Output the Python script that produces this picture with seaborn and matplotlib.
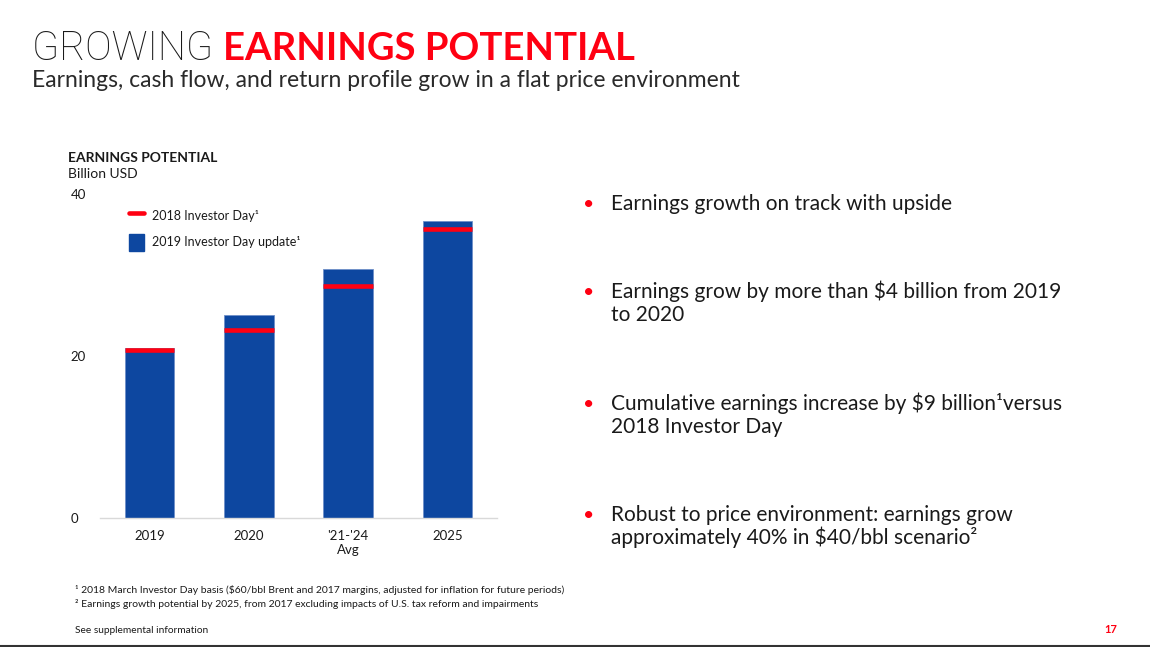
import matplotlib
matplotlib.use("Agg")
import matplotlib.pyplot as plt
import seaborn as sns
import pandas as pd
from matplotlib.lines import Line2D
from matplotlib.patches import Patch

categories = ["2019", "2020", "'21-'24\nAvg", "2025"]
update_2019 = [21.0, 25.1, 30.7, 36.7]
investor_day_2018 = [20.7, 23.2, 28.7, 35.7]
y_ticks = [0, 20, 40]

BLUE = "#0D47A0"
RED = "#FF0012"
TXT = "#1a1a1a"

sns.set_theme(style="white")
plt.rcParams["font.family"] = ["Lato", "DejaVu Sans"]

fig = plt.figure(figsize=(11.5, 6.47), dpi=100)
ax = fig.add_axes([100 / 1150, 1 - 518 / 647, 397 / 1150, 324 / 647])

df = pd.DataFrame({"cat": categories, "val": update_2019, "prev": investor_day_2018})
sns.barplot(data=df, x="cat", y="val", color=BLUE, width=0.5, saturation=1,
            edgecolor="#6f8fc8", linewidth=0.6, ax=ax)
xs = list(range(len(categories)))
ax.hlines(df["prev"], [x - 0.25 for x in xs], [x + 0.25 for x in xs],
          colors=RED, linewidth=3.3, zorder=5)

ax.set_ylim(0, 40)
ax.set_xlim(-0.5, len(categories) - 0.5)
ax.set_yticks(y_ticks)
ax.set_yticklabels([str(t) for t in y_ticks])
ax.set_xlabel("")
ax.set_ylabel("")
for s in ["top", "right", "left"]:
    ax.spines[s].set_visible(False)
ax.spines["bottom"].set_color("#d9d9d9")
ax.spines["bottom"].set_linewidth(1.0)
ax.tick_params(axis="both", length=0, labelsize=9.5, colors=TXT)
ax.tick_params(axis="x", pad=9)
for lab in ax.get_yticklabels():
    lab.set_horizontalalignment("left")
ax.yaxis.set_tick_params(pad=21)

handles = [Line2D([0], [0], color=RED, lw=3.3),
           Patch(facecolor=BLUE, edgecolor=BLUE)]
labels = ["2018 Investor Day¹", "2019 Investor Day update¹"]
ax.legend(handles, labels, loc="upper left", bbox_to_anchor=(0.045, 0.995),
          frameon=False, fontsize=9, handlelength=1.2, handleheight=1.75,
          handletextpad=0.65, labelspacing=0.75, labelcolor=TXT)

# Titles
t1 = fig.text(32 / 1150, 1 - 60 / 647, "GROWING ", fontsize=28.5,
              family=["Roboto", "DejaVu Sans"], fontweight="light",
              color=TXT, va="baseline", ha="left")
fig.canvas.draw()
bb = t1.get_window_extent()
fig.text(bb.x1 / 1150, 1 - 60 / 647, "EARNINGS POTENTIAL", fontsize=27.5,
         fontweight="bold", color=RED, va="baseline", ha="left")
fig.text(32 / 1150, 1 - 87 / 647,
         "Earnings, cash flow, and return profile grow in a flat price environment",
         fontsize=16.5, color="#2a2a2a", va="baseline", ha="left")

fig.text(68 / 1150, 1 - 162 / 647, "EARNINGS POTENTIAL", fontsize=10,
         fontweight="bold", color=TXT, va="baseline", ha="left")
fig.text(68 / 1150, 1 - 178 / 647, "Billion USD", fontsize=10,
         color=TXT, va="baseline", ha="left")

bullets = [
    (210, ["Earnings growth on track with upside"]),
    (298, ["Earnings grow by more than $4 billion from 2019", "to 2020"]),
    (410, ["Cumulative earnings increase by $9 billion¹versus", "2018 Investor Day"]),
    (521, ["Robust to price environment: earnings grow",
           "approximately 40% in $40/bbl scenario²"]),
]
for y, lines in bullets:
    fig.text(583 / 1150, 1 - y / 647, "•", fontsize=14, color=RED,
             va="baseline", ha="left")
    for i, line in enumerate(lines):
        fig.text(611 / 1150, 1 - (y + 23 * i) / 647, line,
                 fontsize=15, color=TXT, va="baseline", ha="left")

fig.text(75 / 1150, 1 - 593 / 647,
         "¹ 2018 March Investor Day basis ($60/bbl Brent and 2017 margins, adjusted for inflation for future periods)",
         fontsize=7.5, color=TXT, va="baseline", ha="left")
fig.text(75 / 1150, 1 - 607 / 647,
         "² Earnings growth potential by 2025, from 2017 excluding impacts of U.S. tax reform and impairments",
         fontsize=7.5, color=TXT, va="baseline", ha="left")
fig.text(75 / 1150, 1 - 633 / 647, "See supplemental information",
         fontsize=7.3, color=TXT, va="baseline", ha="left")
fig.text(1117 / 1150, 1 - 633 / 647, "17", fontsize=8, fontweight="bold",
         color=RED, va="baseline", ha="right")

fig.add_artist(Line2D([0, 1], [1 - 645.5 / 647] * 2, color="#333333", lw=1.5,
                      transform=fig.transFigure))

fig.savefig("out.png", dpi=100)
